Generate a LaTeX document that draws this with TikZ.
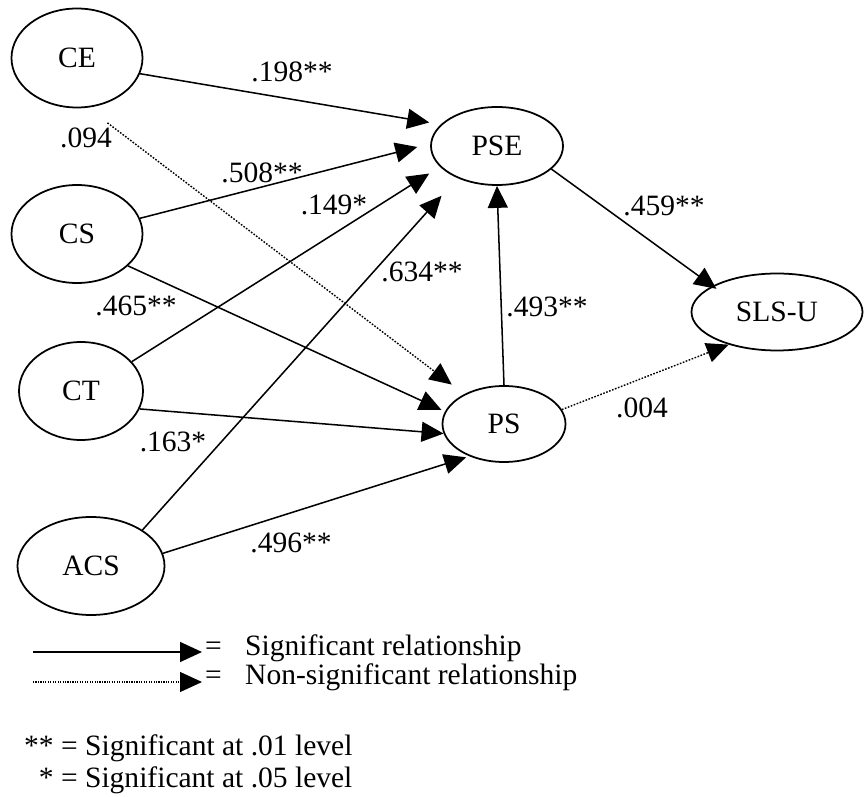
\documentclass[tikz,border=0pt]{standalone}
\usepackage{fontspec}
\setmainfont{Liberation Serif}
\usetikzlibrary{shapes.geometric,arrows.meta}

\begin{document}
\begin{tikzpicture}[x=0.03cm,y=-0.03cm,font=\fontsize{25.2}{30}\selectfont]
  \tikzstyle{var}=[draw,ellipse,line width=1.5pt,inner sep=0pt]
  \tikzstyle{sig}=[line width=1.3pt,-{Triangle[length=0.66cm,width=0.6cm]}]
  \tikzstyle{nonsig}=[line width=1.2pt,dash pattern=on 1.4pt off 1.3pt,-{Triangle[length=0.66cm,width=0.6cm]}]
  \tikzstyle{coef}=[inner sep=0pt]
  \useasboundingbox (0,0) rectangle (864,797);

  % constructs
  \node[var,minimum width=3.93cm,minimum height=2.97cm] (CE) at (77,58) {CE};
  \node[var,minimum width=3.93cm,minimum height=2.94cm] (CS) at (77,234) {CS};
  \node[var,minimum width=3.72cm,minimum height=2.94cm] (CT) at (81,391) {CT};
  \node[var,minimum width=4.41cm,minimum height=2.94cm] (ACS) at (91,566) {ACS};
  \node[var,minimum width=3.96cm,minimum height=2.34cm] (PSE) at (497,146) {PSE};
  \node[var,minimum width=3.69cm,minimum height=2.28cm] (PS) at (504,424) {PS};
  \node[var,minimum width=5.13cm,minimum height=2.31cm] (SLSU) at (777,312) {SLS-U};

  % paths
  \draw[sig,shorten >=0.35cm] (CE.-14) -- (PSE.159);
  \draw[nonsig,shorten <=0.75cm,shorten >=0.47cm] (CE.-78) -- (PS.143);
  \draw[sig,shorten >=0.4cm] (CS.14) -- (PSE.178);
  \draw[sig,shorten >=0.38cm] (CT.30) -- (PSE.200);
  \draw[sig,shorten >=0.71cm] (ACS.35) -- (PSE.219);
  \draw[sig,shorten >=0.12cm] (CS.-32) -- (PS.168);
  \draw[sig] (CT.-17) -- (PS.189);
  \draw[sig,shorten >=0.1cm] (ACS.10) -- (PS.223);
  \draw[sig] (PS.north) -- (PSE.south);
  \draw[sig,shorten >=-0.15cm] (PSE.-23) -- (SLSU.158);
  \draw[nonsig] (PS.14) -- (SLSU.214);

  % coefficients
  \node[coef] (c198) at (292,72) {.198**};
  \node[coef] (c094) at (86,138) {.094};
  \node[coef] (c508) at (262,173) {.508**};
  \node[coef] (c149) at (334,205) {.149*};
  \node[coef] (c634) at (422,272) {.634**};
  \node[coef] (c465) at (136,306) {.465**};
  \node[coef] (c163) at (173,442) {.163*};
  \node[coef] (c496) at (291,543) {.496**};
  \node[coef] (c493) at (547,307) {.493**};
  \node[coef] (c459) at (664,206) {.459**};
  \node[coef] (c004) at (642,408) {.004};

  % key
  \coordinate (s0) at (33,652);
  \coordinate (s1) at (202,652);
  \draw[sig] (s0) -- (s1);
  \coordinate (n0) at (33,682);
  \coordinate (n1) at (202,682);
  \draw[nonsig,line width=1pt,dash pattern=on 1pt off 1.1pt] (n0) -- (n1);
  \node[coef,anchor=base west] (key1) at (205,655) {=\hspace{0.7cm}Significant relationship};
  \node[coef,anchor=base west] (key2) at (205,684) {=\hspace{0.7cm}Non-significant relationship};
  \node[coef,anchor=base west] (note1) at (24,755) {** = Significant at .01 level};
  \node[coef,anchor=base west] (note2) at (38.7,787) {* = Significant at .05 level};
\end{tikzpicture}
\end{document}
